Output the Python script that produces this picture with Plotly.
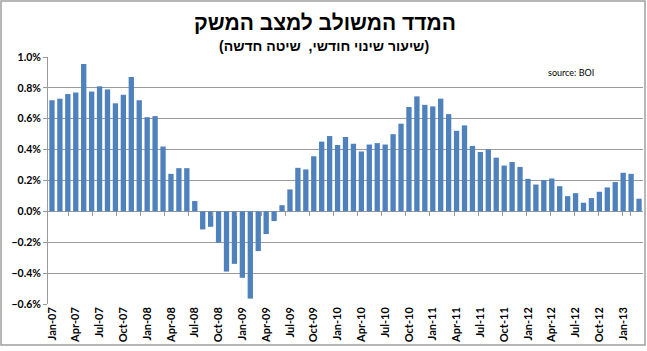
import plotly.graph_objects as go

MONTHS = ["Jan", "Feb", "Mar", "Apr", "May", "Jun", "Jul", "Aug", "Sep", "Oct", "Nov", "Dec"]
YEARS = ["07", "08", "09", "10", "11", "12", "13"]
categories = [f"{m}-{y}" for y in YEARS for m in MONTHS][:75]

values = [
    0.72, 0.73, 0.76, 0.77, 0.955, 0.776, 0.81, 0.79, 0.70, 0.755, 0.87, 0.72,
    0.61, 0.617, 0.42, 0.243, 0.28, 0.28, 0.067, -0.117, -0.10, -0.203, -0.39, -0.34,
    -0.43, -0.565, -0.257, -0.147, -0.063, 0.04, 0.142, 0.282, 0.272, 0.357, 0.452, 0.488,
    0.43, 0.482, 0.438, 0.388, 0.433, 0.442, 0.433, 0.50, 0.568, 0.676, 0.745, 0.69,
    0.68, 0.73, 0.63, 0.522, 0.557, 0.424, 0.385, 0.402, 0.348, 0.297, 0.32, 0.288,
    0.211, 0.174, 0.202, 0.213, 0.163, 0.099, 0.118, 0.056, 0.086, 0.127, 0.155, 0.19,
    0.25, 0.243, 0.082,
]

tick_labels = categories[::3]

title = "המדד המשולב למצב המשק"
subtitle = "(שיעור שינוי חודשי,  שיטה חדשה)"
source = "source: BOI"

BAR = "#4F81BD"
GRID = "#9a9a9a"
FONT = "Liberation Sans"

fig = go.Figure()
fig.add_trace(go.Bar(x=categories, y=values, marker=dict(color=BAR, line=dict(width=0)),
                     showlegend=False))
fig.add_trace(go.Scatter(x=categories, y=[None] * len(categories), xaxis="x2",
                         showlegend=False, hoverinfo="skip"))

ymin, ymax = -0.6, 1.0
zero_pos = (0 - ymin) / (ymax - ymin)

fig.update_layout(
    width=647, height=351,
    margin=dict(l=48, r=4, t=57, b=47),
    paper_bgcolor="white", plot_bgcolor="white",
    bargap=0.33,
    font=dict(family=FONT, color="black"),
    xaxis=dict(type="category", categoryorder="array", categoryarray=categories,
               tickmode="array", tickvals=tick_labels, ticktext=tick_labels,
               tickangle=-90, ticks="", showgrid=False, showline=False, zeroline=False,
               tickfont=dict(family="Lato", size=11, color="black", weight="bold")),
    xaxis2=dict(type="category", categoryorder="array", categoryarray=categories,
                overlaying="x", anchor="free", position=zero_pos,
                tickmode="array", tickvals=tick_labels, tickson="boundaries",
                ticks="outside", ticklen=4, tickcolor=GRID, showticklabels=False,
                showgrid=False, showline=False, zeroline=False),
    yaxis=dict(range=[ymin, ymax], dtick=0.2, tick0=0, tickformat=".1f", ticksuffix="%",
               showgrid=True, gridcolor=GRID, gridwidth=1, zeroline=True,
               zerolinecolor=GRID, zerolinewidth=1,
               showline=True, linecolor=GRID, linewidth=1, ticks="outside",
               ticklen=4, tickcolor=GRID,
               tickfont=dict(family="Lato", size=10.5, color="black", weight="bold")),
    shapes=[dict(type="rect", xref="paper", yref="paper",
                 x0=(1 - 48) / 595, x1=(645 - 48) / 595,
                 y0=(304 - 345) / 247, y1=(304 - 1) / 247,
                 line=dict(color="#a0a0a0", width=1.5), fillcolor="rgba(0,0,0,0)",
                 layer="below")],
    annotations=[
        dict(text=f"<b>{title}</b>", xref="paper", yref="paper",
             x=(325 - 48) / 595, y=(304 - 22) / 247, showarrow=False,
             font=dict(family=FONT, size=21, color="black"), xanchor="center", yanchor="middle"),
        dict(text=f"<b>{subtitle}</b>", xref="paper", yref="paper",
             x=(324 - 48) / 595, y=(304 - 46) / 247, showarrow=False,
             font=dict(family=FONT, size=14, color="black"), xanchor="center", yanchor="middle"),
        dict(text=source, xref="paper", yref="paper",
             x=(571 - 48) / 595, y=(304 - 73) / 247, showarrow=False,
             font=dict(family="Lato", size=9, color="black"), xanchor="center", yanchor="middle"),
    ],
)

fig.write_html("out.html", config={"displayModeBar": False},
               post_script="document.body.style.margin='0';document.body.style.overflow='hidden';")
